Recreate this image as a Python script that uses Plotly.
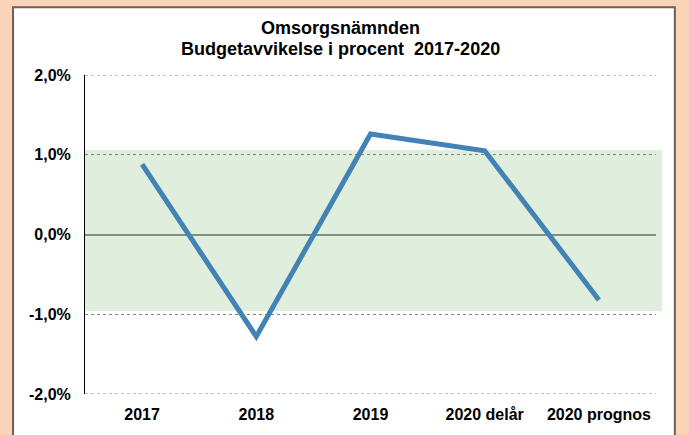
import plotly.graph_objects as go

# ── DATA ─────────────────────────────────────────────
categories = ['2017', '2018', '2019', '2020 delår', '2020 prognos']
deviation_pct = [0.88, -1.28, 1.26, 1.05, -0.82]

y_tickvals = [-2, -1, 0, 1, 2]
y_ticktext = ['-2,0%', '-1,0%', '0,0%', '1,0%', '2,0%']

band_low, band_high = -0.96, 1.06  # green tolerance band

title_lines = ['Omsorgsnämnden', 'Budgetavvikelse i procent \u00a02017-2020']

FONT = 'Liberation Sans, Arial, sans-serif'

fig = go.Figure()

fig.add_trace(
    go.Scatter(
        x=categories,
        y=deviation_pct,
        mode='lines',
        line=dict(color='#4282B5', width=5),
        showlegend=False,
        hoverinfo='skip',
    )
)

# ── BACKGROUND PANEL + BAND ──────────────────────────
fig.add_shape(
    type='rect', xref='paper', yref='paper',
    x0=-0.126, x1=1.033, y0=-0.15, y1=1.212,
    fillcolor='white', line=dict(color='#6E5E55', width=2), layer='below',
)
fig.add_shape(
    type='rect', xref='paper', yref='y',
    x0=0, x1=1.011, y0=band_low, y1=band_high,
    fillcolor='#E0EEDD', line=dict(width=0), layer='below',
)
# dotted grid at the range edges (plotly drops those)
for v in (y_tickvals[0], y_tickvals[-1]):
    fig.add_shape(
        type='line', xref='paper', yref='y', x0=0, x1=1, y0=v, y1=v,
        line=dict(color='#808080', width=1, dash='dot'), layer='below',
    )

# ── TITLE (two lines) ────────────────────────────────
for text, ypos in zip(title_lines, (1.146, 1.081)):
    fig.add_annotation(
        text='<b>%s</b>' % text, xref='paper', yref='paper',
        x=(340 - 85) / 571, y=ypos, xanchor='center', yanchor='middle',
        showarrow=False, font=dict(size=18, family=FONT, color='black'),
    )

fig.update_layout(
    width=689, height=435,
    margin=dict(l=85, r=33, t=75, b=39),
    paper_bgcolor='#F9D4B9',
    plot_bgcolor='rgba(0,0,0,0)',
    font=dict(family=FONT, color='black'),
)

fig.update_xaxes(
    type='category', range=[-0.5, 4.5],
    showgrid=False, showline=False, ticks='',
    tickfont=dict(size=16, family=FONT),
    ticklabelstandoff=9,
    tickprefix='<b>', ticksuffix='</b>',
)

fig.update_yaxes(
    range=[-2, 2],
    tickvals=y_tickvals, ticktext=['<b>%s</b>' % t for t in y_ticktext],
    tickfont=dict(size=16, family=FONT),
    showgrid=True, gridcolor='#808080', gridwidth=1, griddash='dot',
    zeroline=True, zerolinecolor='#7F8F7A', zerolinewidth=2,
    showline=True, linecolor='black', linewidth=1,
    ticks='', ticklabelstandoff=10,
)

# drop the default 8px page margin so the figure sits at the window corner
fig.write_html(
    'out.html',
    config={'displayModeBar': False},
    post_script="document.body.style.margin='0';",
)
